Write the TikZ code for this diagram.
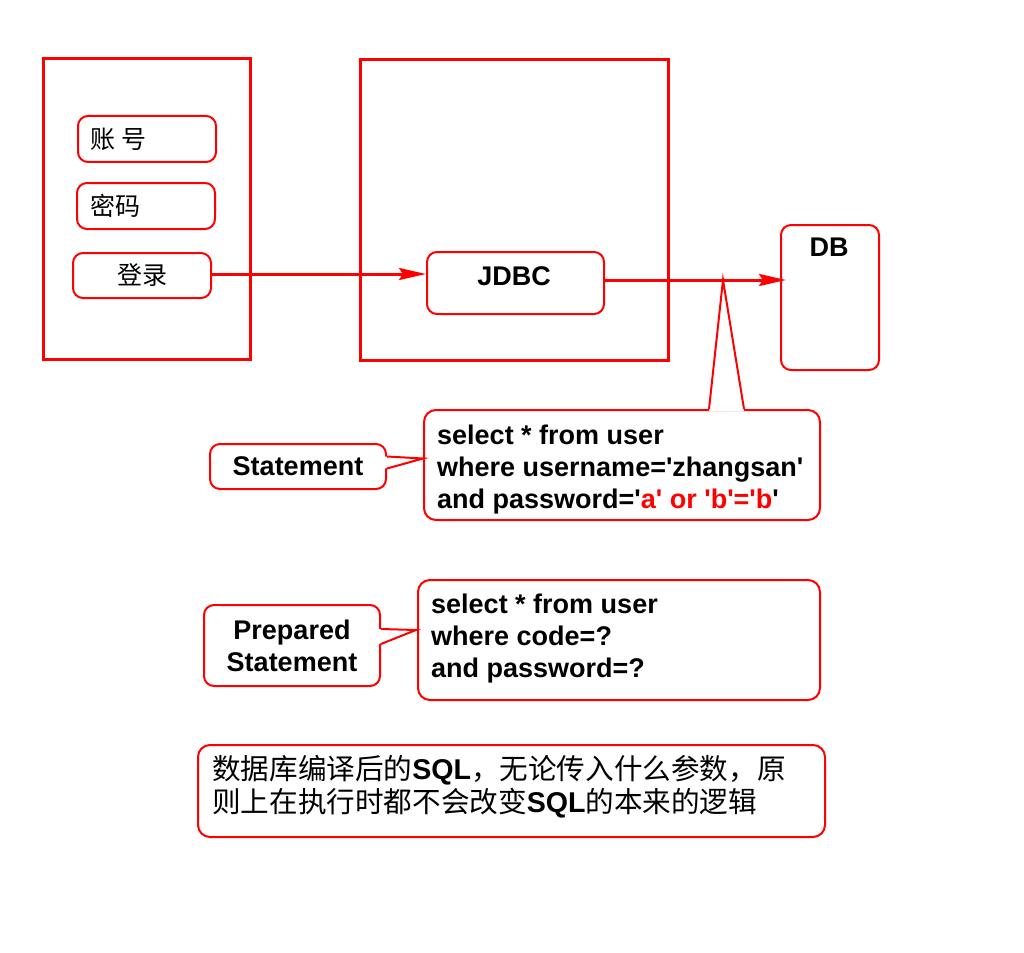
\documentclass[tikz,border=0pt]{standalone}
\usepackage{fontspec}
\setmainfont{Liberation Sans}
\newfontfamily\cjk{Noto Sans CJK SC}
\usetikzlibrary{arrows.meta,calc}
\newcommand{\q}{\textquotesingle}
\tikzset{
  bigbox/.style={draw=red,line width=3pt,fill=none,inner sep=0pt},
  rbox/.style={draw=red,line width=2pt,rounded corners=10pt,inner sep=0pt,fill=white},
  en/.style={font=\fontsize{27}{32}\selectfont\bfseries},
  zh/.style={font=\fontsize{25}{30}\selectfont\cjk},
  arr/.style={draw=red,line width=3pt,-{Stealth[length=27pt,width=12pt,inset=4pt]}},
  ptr/.style={draw=red,line width=2pt,fill=white,line join=miter},
}
\begin{document}
\begin{tikzpicture}[x=1pt,y=-1pt]
\useasboundingbox (0,0) rectangle (1024,952);
% big containers
\node[bigbox,minimum width=207pt,minimum height=300pt] (client) at (146.5,209) {};
\node[bigbox,minimum width=308pt,minimum height=300pt] (server) at (514,210) {};
% left inputs
\node[rbox,minimum width=138pt,minimum height=46pt] (acct) at (147,139) {};
\node[zh,anchor=west,inner sep=0pt] (acctt) at (90,139) {账\hspace{6pt}号};
\node[rbox,minimum width=138pt,minimum height=46pt] (pwd) at (146,206) {};
\node[zh,anchor=west,inner sep=0pt] (pwdt) at (90,206) {密码};
\node[rbox,minimum width=138pt,minimum height=45pt,zh] (login) at (142,275.5) {登录};
% JDBC and DB
\node[rbox,minimum width=177pt,minimum height=62pt] (jdbc) at (515.5,283) {};
\node[en] (jdbct) at (514,276) {JDBC};
\node[rbox,minimum width=98pt,minimum height=145pt] (db) at (830,297.5) {};
\node[en,anchor=north] (dbt) at (829,234) {DB};
% statement SQL box
\node[rbox,minimum width=396pt,minimum height=110pt,rounded corners=12pt] (sql1) at (622,465) {};
\node[en,anchor=west,align=left,inner sep=0pt] (sql1t) at (437,470) {select * from user\\where username=\q zhangsan\q\\and password=\q\textcolor{red}{a\q{} or \q b\q=\q b}\q};
\coordinate (tip1) at (723,280);
\fill[white] ($(sql1.north west)+(286,2)$) -- (tip1) -- ($(sql1.north west)+(321,2)$) -- cycle;
\draw[ptr,fill=none] ($(sql1.north west)+(286,0)$) -- (tip1) -- ($(sql1.north west)+(321,0)$);
% Statement label
\node[rbox,minimum width=176pt,minimum height=45pt,en] (stmt) at (298,466.5) {Statement};
\coordinate (tip2) at (423,458.5);
\fill[white] ($(stmt.north east)+(-2,13.5)$) -- (tip2) -- ($(stmt.north east)+(-2,25.5)$) -- cycle;
\draw[ptr,fill=none] ($(stmt.north east)+(0,13.5)$) -- (tip2) -- ($(stmt.north east)+(0,25.5)$);
% prepared SQL box
\node[rbox,minimum width=402pt,minimum height=120pt,rounded corners=12pt] (sql2) at (619,640) {};
\node[en,anchor=west,align=left,inner sep=0pt] (sql2t) at (431,639) {select * from user\\where code=?\\and password=?};
% PreparedStatement label
\node[rbox,minimum width=176pt,minimum height=81pt,en,align=center] (pstmt) at (292,645.5) {Prepared\\Statement};
\coordinate (tip3) at (416,630);
\fill[white] ($(pstmt.north east)+(-2,25)$) -- (tip3) -- ($(pstmt.north east)+(-2,40)$) -- cycle;
\draw[ptr,fill=none] ($(pstmt.north east)+(0,25)$) -- (tip3) -- ($(pstmt.north east)+(0,40)$);
% arrows
\draw[arr] ([yshift=1.5pt]login.east) -- ([yshift=1.5pt]login.east -| jdbc.west);
\draw[arr] ([yshift=3pt]jdbc.east) -- ([yshift=3pt,xshift=6pt]jdbc.east -| db.west);
% note
\node[rbox,minimum width=627pt,minimum height=92pt,rounded corners=12pt] (note) at (511.5,791) {};
\node[anchor=west,align=left,inner sep=0pt,font=\fontsize{28.6}{33}\selectfont\cjk] (notet) at (212,787) {数据库编译后的{\rmfamily\bfseries SQL}，无论传入什么参数，原\\则上在执行时都不会改变{\rmfamily\bfseries SQL}的本来的逻辑};
\end{tikzpicture}
\end{document}
